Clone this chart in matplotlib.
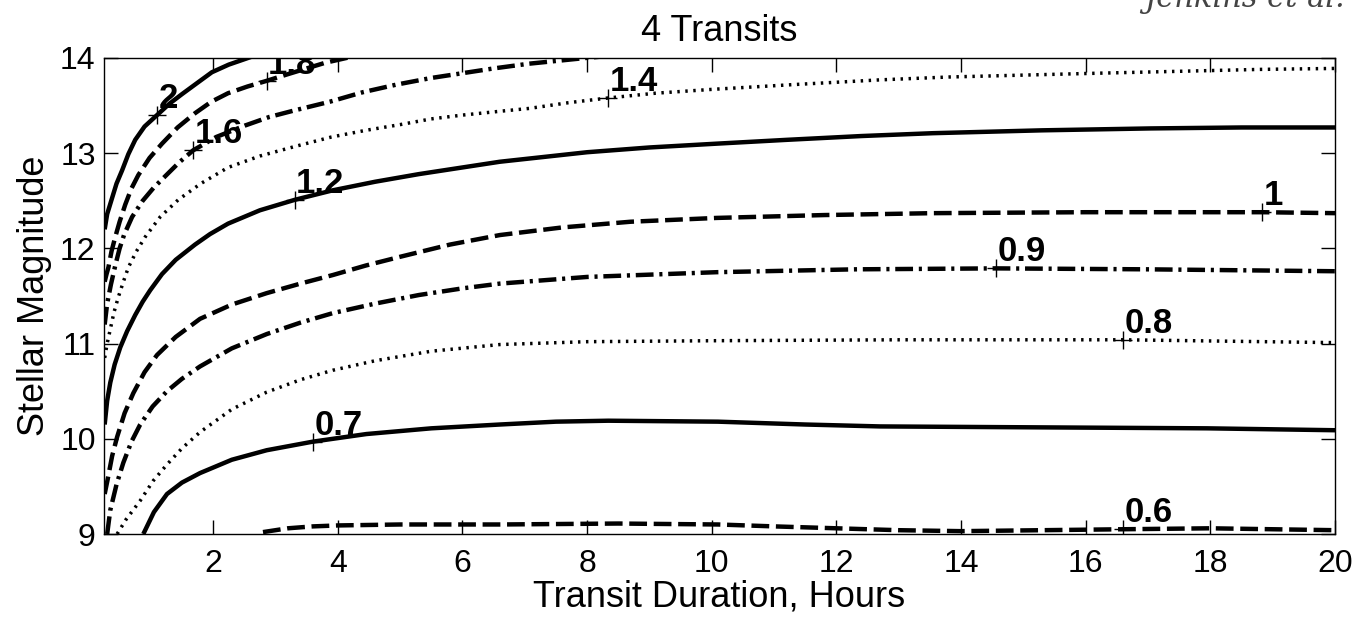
import numpy as np
import matplotlib
matplotlib.use("Agg")
import matplotlib.pyplot as plt

plt.rcParams['font.family'] = ['Liberation Sans', 'DejaVu Sans']

# --- contour lines (x = transit duration in hours, y = stellar magnitude) ---
lvl_20_x = [0.26, 0.30, 0.37, 0.45, 0.54, 0.64, 0.75, 0.90, 1.10, 1.30, 1.50, 1.75, 1.98, 2.25, 2.56, 2.9]
lvl_20_y = [12.20, 12.36, 12.51, 12.68, 12.82, 12.99, 13.14, 13.28, 13.40, 13.52, 13.62, 13.74, 13.85, 13.93, 14.00, 14.08]

lvl_18_x = [0.26, 0.29, 0.32, 0.37, 0.43, 0.50, 0.59, 0.69, 0.80, 0.98, 1.18, 1.43, 1.71, 1.97,
            2.24, 2.55, 2.86, 3.2, 3.5, 3.8, 4.14, 4.6]
lvl_18_y = [11.65, 11.73, 11.80, 11.97, 12.12, 12.28, 12.46, 12.63, 12.77, 12.95, 13.10, 13.27, 13.42, 13.54,
            13.63, 13.70, 13.76, 13.83, 13.89, 13.95, 14.00, 14.06]

lvl_16_x = [0.26, 0.30, 0.36, 0.43, 0.50, 0.57, 0.70, 0.87, 1.05, 1.25, 1.45, 1.68, 2.05, 2.51, 2.9,
            3.31, 3.87, 4.4, 4.94, 5.5, 6.0, 6.5, 7.07, 7.98, 8.5]
lvl_16_y = [11.20, 11.42, 11.62, 11.82, 12.00, 12.14, 12.33, 12.50, 12.64, 12.77, 12.90, 13.03, 13.17, 13.29, 13.38,
            13.45, 13.54, 13.64, 13.72, 13.79, 13.84, 13.89, 13.94, 14.00, 14.03]

lvl_14_x = [0.26, 0.30, 0.35, 0.41, 0.48, 0.56, 0.64, 0.77, 0.91, 1.15, 1.44, 1.8, 2.24, 2.75, 3.31,
            3.9, 4.45, 5.0, 5.5, 6.0, 6.6, 7.07, 7.7, 8.34, 9.1, 10.0, 11.3, 12.7, 13.8, 15.0,
            16.2, 17.5, 18.8, 20.0]
lvl_14_y = [10.85, 11.00, 11.15, 11.33, 11.49, 11.65, 11.80, 11.97, 12.12, 12.33, 12.51, 12.68, 12.85, 12.97, 13.07,
            13.17, 13.24, 13.30, 13.36, 13.40, 13.44, 13.47, 13.53, 13.58, 13.63, 13.67, 13.72, 13.77, 13.80, 13.82,
            13.84, 13.86, 13.88, 13.89]

lvl_12_x = [0.26, 0.30, 0.35, 0.42, 0.51, 0.62, 0.75, 0.87, 0.99, 1.18, 1.4, 1.71, 1.95, 2.24, 2.75,
            3.31, 3.92, 4.6, 5.3, 6.0, 6.6, 7.3, 8.0, 9.0, 10.08, 11.2, 12.4, 13.55, 15.3, 17.04,
            18.5, 20.0]
lvl_12_y = [10.15, 10.40, 10.59, 10.78, 10.96, 11.13, 11.30, 11.44, 11.56, 11.73, 11.88, 12.04, 12.15, 12.26, 12.40,
            12.51, 12.61, 12.70, 12.78, 12.85, 12.91, 12.96, 13.01, 13.06, 13.10, 13.14, 13.18, 13.21, 13.24, 13.26,
            13.27, 13.27]

lvl_10_x = [0.26, 0.31, 0.38, 0.46, 0.58, 0.72, 0.90, 1.10, 1.4, 1.79, 2.3, 2.86, 3.4, 3.92, 4.45,
            4.99, 5.8, 6.6, 7.6, 8.7, 10.08, 11.8, 13.55, 16.0, 18.83, 20.0]
lvl_10_y = [9.42, 9.58, 9.82, 10.02, 10.27, 10.48, 10.70, 10.88, 11.07, 11.26, 11.41, 11.53, 11.63, 11.72, 11.82,
            11.91, 12.04, 12.14, 12.22, 12.28, 12.32, 12.35, 12.37, 12.38, 12.38, 12.37]

lvl_09_x = [0.30, 0.35, 0.45, 0.56, 0.69, 0.83, 1.03, 1.26, 1.5, 1.79, 2.3, 2.86, 3.4, 3.92, 4.6,
            5.3, 6.0, 6.6, 8.0, 10.08, 12.3, 14.56, 17.0, 20.0]
lvl_09_y = [9.00, 9.25, 9.52, 9.75, 9.97, 10.15, 10.34, 10.50, 10.63, 10.76, 10.95, 11.10, 11.22, 11.32, 11.42,
            11.51, 11.58, 11.63, 11.70, 11.75, 11.78, 11.79, 11.78, 11.76]

lvl_08_x = [0.46, 0.60, 0.83, 1.04, 1.26, 1.5, 1.79, 2.3, 2.86, 3.4, 3.92, 4.6, 5.5, 6.6, 8.0,
            10.0, 13.0, 16.6, 20.0]
lvl_08_y = [9.00, 9.15, 9.35, 9.56, 9.73, 9.90, 10.07, 10.31, 10.49, 10.62, 10.72, 10.82, 10.92, 10.99, 11.02,
            11.03, 11.04, 11.04, 11.01]

lvl_07_x = [0.88, 1.05, 1.26, 1.5, 1.79, 2.3, 2.86, 3.6, 4.46, 5.5, 6.6, 7.5, 8.34, 10.1, 11.5,
            12.7, 15.3, 17.95, 20.0]
lvl_07_y = [9.00, 9.23, 9.42, 9.54, 9.64, 9.78, 9.88, 9.97, 10.05, 10.11, 10.15, 10.18, 10.19, 10.18, 10.15,
            10.13, 10.12, 10.11, 10.09]

lvl_06_x = [2.8, 3.2, 3.6, 4.0, 5.0, 6.6, 8.5, 10.1, 11.0, 12.0, 13.0, 14.0, 15.3, 16.6, 18.0, 19.0, 20.0]
lvl_06_y = [9.02, 9.06, 9.08, 9.09, 9.10, 9.10, 9.11, 9.10, 9.08, 9.06, 9.04, 9.03, 9.04, 9.05, 9.06, 9.05, 9.04]

levels = ['2', '1.8', '1.6', '1.4', '1.2', '1', '0.9', '0.8', '0.7', '0.6']

# label anchor points ('+' marks)
label_x = [1.10, 2.86, 1.68, 8.34, 3.31, 18.83, 14.56, 16.6, 3.6, 16.6]
label_y = [13.40, 13.76, 13.03, 13.58, 12.51, 12.38, 11.79, 11.04, 9.97, 9.05]

xticks = [2, 4, 6, 8, 10, 12, 14, 16, 18, 20]
yticks = [9, 10, 11, 12, 13, 14]

curves = [(lvl_20_x, lvl_20_y), (lvl_18_x, lvl_18_y), (lvl_16_x, lvl_16_y),
          (lvl_14_x, lvl_14_y), (lvl_12_x, lvl_12_y), (lvl_10_x, lvl_10_y),
          (lvl_09_x, lvl_09_y), (lvl_08_x, lvl_08_y), (lvl_07_x, lvl_07_y),
          (lvl_06_x, lvl_06_y)]

# MATLAB style cycle: solid, dashed, dash-dot, dotted
styles = [dict(ls='-', lw=3.2),
          dict(ls=(0, (4, 1.5)), lw=3.2),
          dict(ls=(0, (4, 1.3, 0.7, 1.3)), lw=3.2),
          dict(ls=(0, (0.7, 1.6)), lw=2.5)]

fig = plt.figure(figsize=(13.53, 6.2), dpi=100)
ax = fig.add_axes([0.0769, 0.1387, 0.9098, 0.7678])

for i, (cx, cy) in enumerate(curves):
    ax.plot(cx, cy, color='k', solid_capstyle='butt', dash_capstyle='butt',
            solid_joinstyle='round', **styles[i % 4])

# contour labels
ax.plot(label_x, label_y, ls='none', marker='+', ms=13, mew=1.0, color='k')
for lx, ly, txt in zip(label_x, label_y, levels):
    ax.annotate(txt, (lx, ly), xytext=(1, 5), textcoords='offset points',
                ha='left', va='baseline', fontsize=25, fontweight='bold',
                annotation_clip=False, clip_on=True)

ax.set_xlim(0.25, 20)
ax.set_ylim(9, 14)
ax.set_xticks(xticks)
ax.set_yticks(yticks)
ax.tick_params(direction='in', length=10, width=1, top=True, right=True,
               labelsize=23, colors='k')
ax.tick_params(axis='x', pad=11)
ax.tick_params(axis='y', pad=6)
for s in ax.spines.values():
    s.set_linewidth(1)

ax.set_xlabel('Transit Duration, Hours', fontsize=26, labelpad=0)
ax.set_ylabel('Stellar Magnitude', fontsize=26, labelpad=6)
ax.set_title('4 Transits', fontsize=26, pad=12)

# source note, cropped at the top edge as in the original
fig.text(0.994, 0.988, 'Jenkins et al.', ha='right', va='baseline',
         fontsize=22, style='italic', family='serif', color='#444444')

fig.savefig('out.png', dpi=100, facecolor='white')
